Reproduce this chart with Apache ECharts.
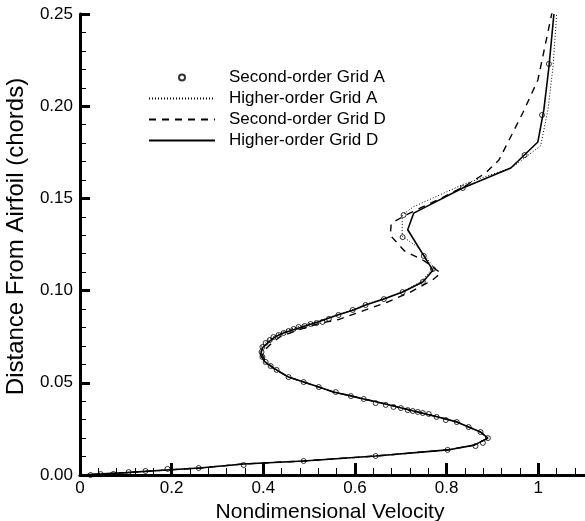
<!DOCTYPE html>
<html><head><meta charset="utf-8">
<script src="https://cdn.jsdelivr.net/npm/echarts@6/dist/echarts.min.js"></script>
<style>html,body{margin:0;padding:0;background:#fff}#c{width:585px;height:521px}</style>
</head><body><div id="c"></div>
<script>
// Series names (legend order)
const seriesNames = ['Second-order Grid A', 'Higher-order Grid A', 'Second-order Grid D', 'Higher-order Grid D'];
const xAxisName = 'Nondimensional Velocity';
const yAxisName = 'Distance From Airfoil (chords)';

// [velocity, distance]
const secondOrderGridA = [
  [0.023,0.0],[0.045,0.0005],[0.073,0.0006],[0.106,0.0016],[0.143,0.0022],[0.191,0.0033],[0.259,0.0038],
  [0.357,0.0054],[0.488,0.0076],[0.645,0.0103],[0.802,0.0136],[0.863,0.0157],[0.879,0.0174],[0.890,0.020],
  [0.874,0.0233],[0.848,0.026],[0.822,0.0287],[0.798,0.0298],[0.778,0.0315],[0.761,0.0331],[0.748,0.0336],
  [0.737,0.0342],[0.726,0.0347],[0.715,0.0352],[0.700,0.0363],[0.684,0.0369],[0.667,0.038],[0.645,0.039],
  [0.619,0.0412],[0.591,0.0428],[0.558,0.045],[0.521,0.0477],[0.488,0.0504],[0.455,0.0531],[0.429,0.057],
  [0.416,0.0591],[0.405,0.0613],[0.398,0.064],[0.396,0.0667],[0.398,0.0694],[0.405,0.0716],[0.414,0.0732],
  [0.422,0.0748],[0.433,0.0759],[0.444,0.077],[0.455,0.0781],[0.466,0.0792],[0.477,0.0803],[0.490,0.0808],
  [0.503,0.0819],[0.516,0.0824],[0.529,0.083],[0.543,0.0846],[0.564,0.0868],[0.595,0.0895],[0.623,0.0922],
  [0.663,0.0954],[0.704,0.0992],[0.748,0.1047],[0.770,0.1117],[0.750,0.1188],[0.704,0.129],[0.706,0.141],
  [0.835,0.1556],[0.970,0.1735],[1.008,0.1952],[1.023,0.2229]
];
const higherOrderGridA = [
  [0,0],[0.05,0.0006],[0.1,0.0013],[0.189,0.0027],[0.261,0.0038],[0.357,0.006],[0.488,0.0076],[0.645,0.0103],
  [0.802,0.0136],[0.86,0.0162],[0.89,0.020],[0.874,0.0233],[0.848,0.026],[0.822,0.0288],[0.781,0.0315],
  [0.728,0.0347],[0.693,0.0369],[0.667,0.0385],[0.619,0.0412],[0.591,0.0429],[0.553,0.045],[0.521,0.0477],
  [0.488,0.0504],[0.455,0.0531],[0.42,0.058],[0.40,0.062],[0.392,0.066],[0.396,0.070],[0.407,0.0725],
  [0.425,0.0755],[0.446,0.078],[0.48,0.0808],[0.519,0.0833],[0.562,0.087],[0.597,0.0898],[0.623,0.0925],
  [0.663,0.0958],[0.704,0.0995],[0.745,0.105],[0.772,0.1128],[0.737,0.1236],[0.703,0.1295],[0.703,0.141],
  [0.728,0.1455],[0.835,0.1575],[0.944,0.167],[1.005,0.1785],[1.021,0.198],[1.032,0.2213],[1.040,0.25]
];
const secondOrderGridD = [
  [0,0],[0.05,0.0006],[0.1,0.0013],[0.189,0.0027],[0.261,0.0038],[0.357,0.006],[0.488,0.0076],[0.645,0.0103],
  [0.802,0.0136],[0.86,0.0162],[0.89,0.020],[0.874,0.0233],[0.848,0.026],[0.822,0.0288],[0.781,0.0315],
  [0.728,0.0347],[0.693,0.0369],[0.667,0.0385],[0.619,0.0412],[0.591,0.0429],[0.553,0.045],[0.521,0.0477],
  [0.488,0.0504],[0.455,0.0531],[0.425,0.0575],[0.405,0.0615],[0.398,0.065],[0.404,0.068],[0.418,0.0715],
  [0.437,0.075],[0.475,0.0786],[0.525,0.0824],[0.564,0.0843],[0.606,0.0880],[0.671,0.0938],[0.721,0.0992],
  [0.769,0.1057],[0.787,0.1095],[0.752,0.116],[0.708,0.1215],[0.677,0.130],[0.679,0.1365],[0.715,0.1415],
  [0.787,0.150],[0.842,0.157],[0.885,0.1638],[0.914,0.1708],[0.944,0.1855],[0.966,0.1963],[0.999,0.2142],
  [1.016,0.2343],[1.030,0.251]
];
const higherOrderGridD = [
  [0,0],[0.05,0.0006],[0.1,0.0013],[0.189,0.0027],[0.261,0.0038],[0.357,0.006],[0.488,0.0076],[0.645,0.0103],
  [0.802,0.0136],[0.86,0.0162],[0.89,0.020],[0.874,0.0233],[0.848,0.026],[0.822,0.0288],[0.781,0.0315],
  [0.728,0.0347],[0.693,0.0369],[0.667,0.0385],[0.619,0.0412],[0.591,0.0429],[0.553,0.045],[0.521,0.0477],
  [0.488,0.0504],[0.455,0.0531],[0.422,0.058],[0.403,0.0615],[0.394,0.065],[0.398,0.069],[0.409,0.0716],
  [0.425,0.0748],[0.444,0.077],[0.481,0.080],[0.519,0.083],[0.562,0.0868],[0.597,0.0895],[0.623,0.0922],
  [0.663,0.0954],[0.704,0.0992],[0.748,0.1047],[0.770,0.111],[0.715,0.133],[0.728,0.142],[0.835,0.1556],
  [0.940,0.1665],[0.999,0.1806],[1.012,0.198],[1.023,0.221],[1.034,0.25]
];
const xRange = [0, 1.2];
const yRange = [0, 0.25];
const xInterval = 0.2;
const yInterval = 0.05;

const FONT = "'Liberation Sans', Arial, Helvetica, sans-serif";
const hideSym = {color: 'rgba(0,0,0,0)', borderWidth: 0, borderColor: 'rgba(0,0,0,0)'};
const chart = echarts.init(document.getElementById('c'), null, {renderer: 'canvas'});
chart.setOption({
  animation: false,
  backgroundColor: '#fff',
  grid: {left: 80, top: 14, width: 550, height: 461, containLabel: false, outerBoundsMode: 'none'},
  legend: {
    orient: 'vertical', left: 143, top: 64,
    itemWidth: 66, itemHeight: 6, itemGap: 4,
    textStyle: {fontFamily: FONT, fontSize: 17, color: '#000', padding: [0,0,0,9]},
    data: [
      {name: seriesNames[0]},
      {name: seriesNames[1], itemStyle: hideSym},
      {name: seriesNames[2], itemStyle: hideSym},
      {name: seriesNames[3], itemStyle: hideSym}
    ]
  },
  xAxis: {
    type: 'value', min: xRange[0], max: xRange[1], interval: xInterval,
    name: xAxisName, nameLocation: 'middle', nameGap: 17,
    nameTextStyle: {fontFamily: FONT, fontSize: 21, color: '#000', padding: [0, 50, 0, 0]},
    splitLine: {show: false},
    axisLine: {show: true, onZero: false, lineStyle: {color: '#000', width: 3}},
    axisTick: {show: true, inside: true, length: 12, lineStyle: {color: '#000', width: 3}},
    minorTick: {show: true, splitNumber: 5, length: 7, lineStyle: {color: '#000', width: 1}},
    axisLabel: {fontFamily: FONT, fontSize: 17, color: '#000', margin: 5}
  },
  yAxis: {
    type: 'value', min: yRange[0], max: yRange[1], interval: yInterval,
    name: yAxisName, nameLocation: 'middle', nameGap: 52, nameRotate: 90,
    nameTextStyle: {fontFamily: FONT, fontSize: 24, color: '#000', padding: [0,0,0,16]},
    splitLine: {show: false},
    axisLine: {show: true, onZero: false, lineStyle: {color: '#000', width: 3}},
    axisTick: {show: true, inside: true, length: 10, lineStyle: {color: '#000', width: 3}},
    minorTick: {show: true, splitNumber: 5, length: 6, lineStyle: {color: '#000', width: 1}},
    axisLabel: {fontFamily: FONT, fontSize: 17, color: '#000', margin: 7,
      formatter: v => v.toFixed(2)}
  },
  series: [
    {name: seriesNames[1], type: 'line', data: higherOrderGridA, symbol: 'none',
     lineStyle: {color: '#000', width: 1, type: [1, 2]}, itemStyle: {color: '#000'}},
    {name: seriesNames[2], type: 'line', data: secondOrderGridD, symbol: 'none',
     lineStyle: {color: '#000', width: 1.4, type: [7, 6]}, itemStyle: {color: '#000'}},
    {name: seriesNames[3], type: 'line', data: higherOrderGridD, symbol: 'none',
     lineStyle: {color: '#000', width: 1.6, type: 'solid'}, itemStyle: {color: '#000'}},
    {name: seriesNames[0], type: 'scatter', data: secondOrderGridA, symbol: 'circle', symbolSize: 5,
     symbolKeepAspect: true,
     itemStyle: {color: 'rgba(255,255,255,0)', borderColor: '#000', borderWidth: 1}}
  ]
});
</script></body></html>
